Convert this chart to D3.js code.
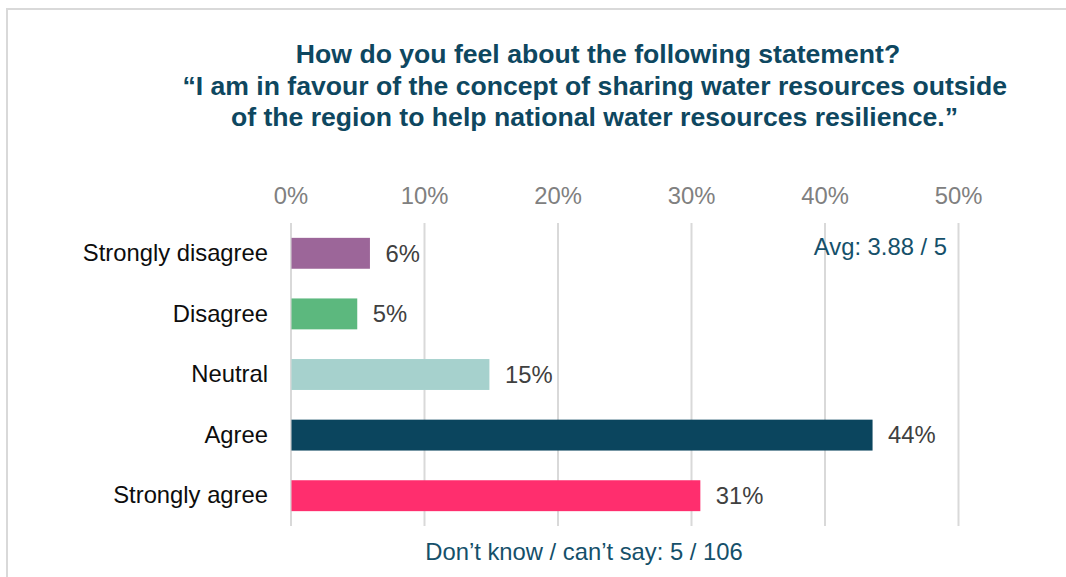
<!DOCTYPE html>
<html>
<head>
<meta charset="utf-8">
<script src="https://cdn.jsdelivr.net/npm/d3@7"></script>
<style>
  html, body { margin: 0; padding: 0; background: #fff; }
  svg { display: block; font-family: "Liberation Sans", Arial, sans-serif; }
</style>
</head>
<body>
<svg id="chart" width="1066" height="577"></svg>
<script>
const categories = ["Strongly disagree", "Disagree", "Neutral", "Agree", "Strongly agree"];
const values = [5.95, 5.0, 14.9, 43.6, 30.7];
const valueLabels = ["6%", "5%", "15%", "44%", "31%"];
const colors = ["#9c6699", "#5cb87e", "#a6d1cd", "#0b455e", "#ff2e6e"];
const tickValues = [0, 10, 20, 30, 40, 50];
const titleLines = [
  "How do you feel about the following statement?",
  "\u201CI am in favour of the concept of sharing water resources outside",
  "of the region to help national water resources resilience.\u201D"
];
const avgText = "Avg: 3.88 / 5";
const footText = "Don\u2019t know / can\u2019t say: 5 / 106";

const svg = d3.select("#chart");
const W = 1066, H = 577;

// outer border
svg.append("rect").attr("x", 7).attr("y", 9).attr("width", W + 10).attr("height", H + 10)
  .attr("fill", "none").attr("stroke", "#d9d9d9").attr("stroke-width", 2);

const x = d3.scaleLinear().domain([0, 50]).range([290.5, 958]);
const y = d3.scaleBand().domain(categories).range([223, 526]).paddingInner(0.49).paddingOuter(0.245);

// title
const tColor = "#0e4760";
svg.append("g").selectAll("text").data(titleLines).join("text")
  .attr("x", (d, i) => [598, 594.7, 594.5][i])
  .attr("y", (d, i) => 63 + i * 31.5)
  .attr("text-anchor", "middle")
  .attr("font-weight", "bold")
  .attr("font-size", 26.6)
  .attr("fill", tColor)
  .text(d => d);

// gridlines + top axis
const gx = d3.axisTop(x).tickValues(tickValues).tickSize(-(526 - 223)).tickFormat(d => d + "%").tickPadding(19);
const axisG = svg.append("g").attr("transform", "translate(0,223)").call(gx);
axisG.select(".domain").remove();
axisG.selectAll(".tick line").attr("stroke", "#d9d9d9").attr("stroke-width", 2);
axisG.selectAll(".tick text").attr("fill", "#808080").attr("font-size", 23.8)
  .attr("font-family", "Liberation Sans, Arial, sans-serif");

// bars
svg.append("g").selectAll("rect").data(values).join("rect")
  .attr("x", x(0) + 1)
  .attr("y", (d, i) => y(categories[i]))
  .attr("width", d => x(d) - x(0) - 1)
  .attr("height", y.bandwidth())
  .attr("fill", (d, i) => colors[i]);

// value labels
svg.append("g").selectAll("text").data(values).join("text")
  .attr("x", d => x(d) + 15.5)
  .attr("y", (d, i) => y(categories[i]) + y.bandwidth() / 2)
  .attr("dy", "0.35em")
  .attr("font-size", 23.8)
  .attr("fill", "#404040")
  .text((d, i) => valueLabels[i]);

// category labels
const gy = d3.axisLeft(y).tickSize(0).tickPadding(22);
const yG = svg.append("g").attr("transform", `translate(${x(0) - 0.5},0)`).call(gy);
yG.select(".domain").remove();
yG.selectAll(".tick text").attr("fill", "#0d0d0d").attr("font-size", 23.8)
  .attr("font-family", "Liberation Sans, Arial, sans-serif");

// avg
svg.append("text").attr("x", 947).attr("y", 247).attr("dy", "0.35em")
  .attr("text-anchor", "end").attr("font-size", 23.8).attr("fill", "#15506a").text(avgText);

// footer
svg.append("text").attr("x", 584).attr("y", 552).attr("dy", "0.35em")
  .attr("text-anchor", "middle").attr("font-size", 23.8).attr("fill", "#15506a").text(footText);
</script>
</body>
</html>
